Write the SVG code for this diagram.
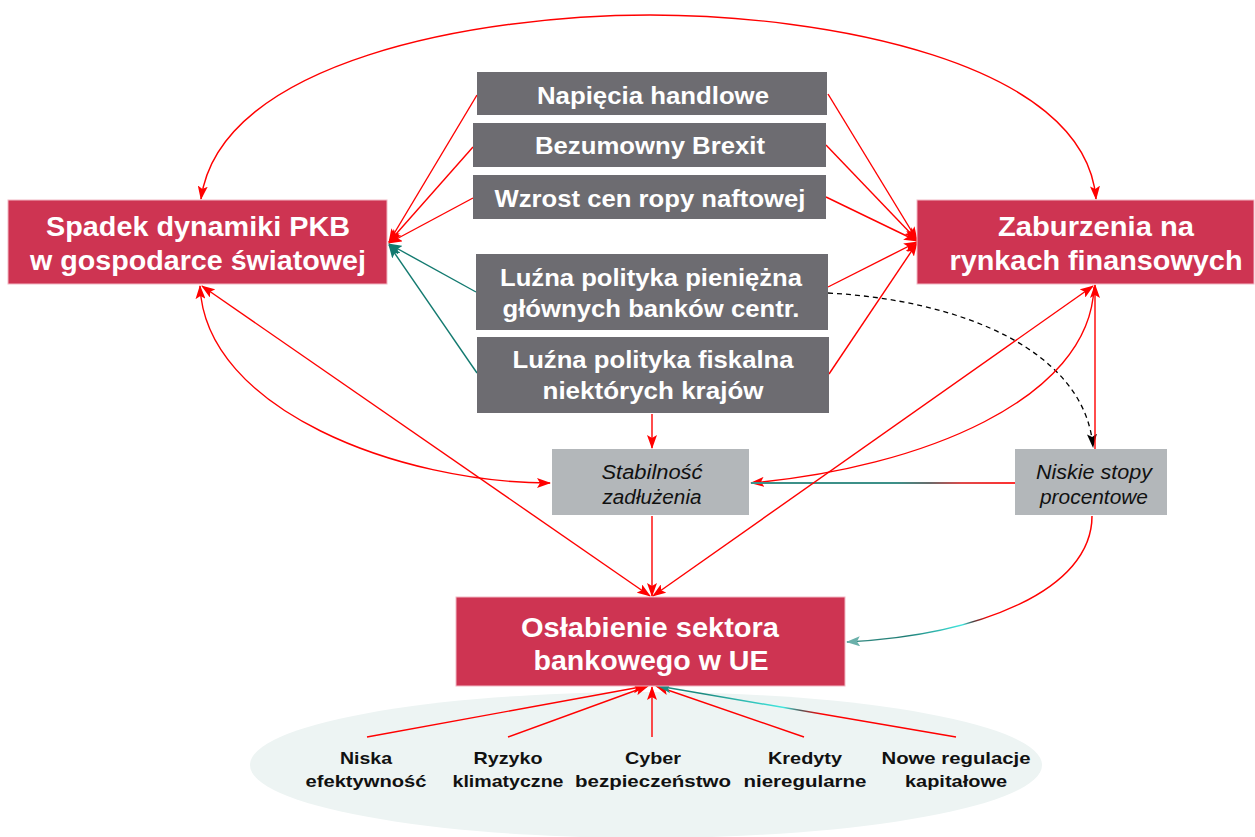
<svg xmlns="http://www.w3.org/2000/svg" width="1255" height="837" viewBox="0 0 1255 837">
<style>
.red{fill:#CE3452;stroke:#F2B8C4;stroke-width:1}
.dark{fill:#6D6C71}
.light{fill:#B3B7BA}
.tb{font-family:"Liberation Sans",Arial,sans-serif;font-weight:bold;fill:#fff;text-anchor:middle}
.ti{font-family:"Liberation Sans",Arial,sans-serif;font-style:italic;fill:#111;text-anchor:middle;font-size:20px}
.tk{font-family:"Liberation Sans",Arial,sans-serif;font-weight:bold;fill:#111;text-anchor:middle;font-size:17px}
.c{fill:none;stroke:#FF0000;stroke-width:1.4}
.ct{fill:none;stroke:#137A70;stroke-width:1.4}
</style>
<defs>
<marker id="ar" viewBox="0 0 14 10" refX="13" refY="5" markerWidth="14" markerHeight="10" markerUnits="userSpaceOnUse" orient="auto-start-reverse"><path d="M0,0 L14,5 L0,10 L3,5 z" fill="#FF0000"/></marker>
<marker id="at" viewBox="0 0 14 10" refX="13" refY="5" markerWidth="14" markerHeight="10" markerUnits="userSpaceOnUse" orient="auto-start-reverse"><path d="M0,0 L14,5 L0,10 L3,5 z" fill="#137A70"/></marker>
<marker id="ab" viewBox="0 0 14 10" refX="13" refY="5" markerWidth="14" markerHeight="10" markerUnits="userSpaceOnUse" orient="auto"><path d="M0,0 L14,5 L0,10 L3,5 z" fill="#000"/></marker>
<marker id="al" viewBox="0 0 14 10" refX="13" refY="5" markerWidth="14" markerHeight="10" markerUnits="userSpaceOnUse" orient="auto"><path d="M0,0 L14,5 L0,10 L3,5 z" fill="#6AB0AA"/></marker>
<marker id="at2" viewBox="0 0 14 10" refX="13" refY="5" markerWidth="14" markerHeight="10" markerUnits="userSpaceOnUse" orient="auto"><path d="M0,0 L14,5 L0,10 L3,5 z" fill="#1C8A80"/></marker>
<linearGradient id="gH" gradientUnits="userSpaceOnUse" x1="1015" y1="483" x2="751" y2="483">
<stop offset="0" stop-color="#FF3030"/><stop offset="0.2" stop-color="#E04848"/><stop offset="0.32" stop-color="#6A6A6A"/><stop offset="0.45" stop-color="#3C9088"/><stop offset="1" stop-color="#3C9088"/>
</linearGradient>
<linearGradient id="gN" gradientUnits="userSpaceOnUse" x1="1092" y1="516" x2="847" y2="642">
<stop offset="0" stop-color="#FF0000"/><stop offset="0.5" stop-color="#FF0000"/><stop offset="0.56" stop-color="#444"/><stop offset="0.6" stop-color="#40E8E0"/><stop offset="0.8" stop-color="#1E7C74"/><stop offset="1" stop-color="#3A8E86"/>
</linearGradient>
<linearGradient id="gB" gradientUnits="userSpaceOnUse" x1="956" y1="737" x2="658" y2="686">
<stop offset="0" stop-color="#FF0000"/><stop offset="0.45" stop-color="#FF0000"/><stop offset="0.52" stop-color="#555"/><stop offset="0.58" stop-color="#40E8E0"/><stop offset="0.85" stop-color="#1C8A80"/><stop offset="1" stop-color="#1C8A80"/>
</linearGradient>
</defs>
<rect width="1255" height="837" fill="#fff"/>
<ellipse id="bg-ellipse" cx="646" cy="765" rx="396" ry="73" fill="#EDF4F3"/>

<g id="connectors">
<path class="c" d="M201 199 C220 60 480 15 650 15 C820 15 1085 60 1096 199" marker-start="url(#ar)" marker-end="url(#ar)"/>
<path class="c" d="M477 95 L389 242" marker-end="url(#ar)"/>
<path class="c" d="M473 147 L389 242" marker-end="url(#ar)"/>
<path class="c" d="M473 198 L389 243" marker-end="url(#ar)"/>
<path class="ct" d="M476 292 L389 244" marker-end="url(#at)"/>
<path class="ct" d="M477 373 L389 245" marker-end="url(#at)"/>
<path class="c" d="M828 94 L917 240" marker-end="url(#ar)"/>
<path class="c" d="M826 145 L917 240" marker-end="url(#ar)"/>
<path class="c" d="M826 197 L917 241" marker-end="url(#ar)"/>
<path class="c" d="M828 287 L917 242" marker-end="url(#ar)"/>
<path class="c" d="M829 374 L917 243" marker-end="url(#ar)"/>
<path d="M828 293 C960 300 1085 350 1093 447" fill="none" stroke="#000" stroke-width="1.3" stroke-dasharray="5,4" marker-end="url(#ab)"/>
<path class="c" d="M1095 449 L1095 285" marker-end="url(#ar)"/>
<path class="c" d="M1094 287 C1090 400 920 468 751 483" marker-end="url(#ar)"/>
<path d="M1015 483 L751 483" fill="none" stroke="url(#gH)" stroke-width="2"/>
<path class="c" d="M200 286 C205 410 400 483 550 483" marker-start="url(#ar)" marker-end="url(#ar)"/>
<path class="c" d="M202 286 L650 596" marker-start="url(#ar)" marker-end="url(#ar)"/>
<path class="c" d="M653 596 L1093 286" marker-start="url(#ar)" marker-end="url(#ar)"/>
<path class="c" d="M652 414 L652 448" marker-end="url(#ar)"/>
<path class="c" d="M652 516 L652 596" marker-end="url(#ar)"/>
<path d="M1092 516 C1092 590 980 635 847 642" fill="none" stroke="url(#gN)" stroke-width="1.5" marker-end="url(#al)"/>
<path class="c" d="M367 737 L646 686" marker-end="url(#ar)"/>
<path class="c" d="M508 737 L648 686" marker-end="url(#ar)"/>
<path class="c" d="M652 737 L652 687" marker-end="url(#ar)"/>
<path class="c" d="M804 737 L656 686" marker-end="url(#ar)"/>
<path d="M956 737 L658 686" fill="none" stroke="url(#gB)" stroke-width="1.5" marker-end="url(#at2)"/>
</g>

<g id="spadek">
<rect class="red" x="8" y="200" width="379" height="84"/>
<text class="tb" font-size="28" x="198" y="236" textLength="304" lengthAdjust="spacingAndGlyphs">Spadek dynamiki PKB</text>
<text class="tb" font-size="28" x="198" y="270" textLength="336" lengthAdjust="spacingAndGlyphs">w gospodarce światowej</text>
</g>
<g id="zaburzenia">
<rect class="red" x="917" y="200" width="337" height="84"/>
<text class="tb" font-size="28" x="1096" y="236" textLength="196" lengthAdjust="spacingAndGlyphs">Zaburzenia na</text>
<text class="tb" font-size="28" x="1096" y="270" textLength="293" lengthAdjust="spacingAndGlyphs">rynkach finansowych</text>
</g>
<g id="napiecia">
<rect class="dark" x="477" y="72" width="350" height="43"/>
<text class="tb" font-size="24" x="653" y="104" textLength="232" lengthAdjust="spacingAndGlyphs">Napięcia handlowe</text>
</g>
<g id="brexit">
<rect class="dark" x="473" y="123" width="353" height="44"/>
<text class="tb" font-size="24" x="650" y="154" textLength="230" lengthAdjust="spacingAndGlyphs">Bezumowny Brexit</text>
</g>
<g id="ropa">
<rect class="dark" x="473" y="175" width="353" height="44"/>
<text class="tb" font-size="24" x="650" y="207" textLength="311" lengthAdjust="spacingAndGlyphs">Wzrost cen ropy naftowej</text>
</g>
<g id="pieniezna">
<rect class="dark" x="476" y="254" width="352" height="76"/>
<text class="tb" font-size="24" x="651" y="286" textLength="302" lengthAdjust="spacingAndGlyphs">Luźna polityka pieniężna</text>
<text class="tb" font-size="24" x="651" y="317" textLength="297" lengthAdjust="spacingAndGlyphs">głównych banków centr.</text>
</g>
<g id="fiskalna">
<rect class="dark" x="477" y="337" width="352" height="76"/>
<text class="tb" font-size="24" x="653" y="368" textLength="281" lengthAdjust="spacingAndGlyphs">Luźna polityka fiskalna</text>
<text class="tb" font-size="24" x="653" y="399" textLength="221" lengthAdjust="spacingAndGlyphs">niektórych krajów</text>
</g>
<g id="stabilnosc">
<rect class="light" x="552" y="449" width="197" height="66"/>
<text class="ti" x="652" y="479" textLength="101" lengthAdjust="spacingAndGlyphs">Stabilność</text>
<text class="ti" x="652" y="504" textLength="99" lengthAdjust="spacingAndGlyphs">zadłużenia</text>
</g>
<g id="niskie">
<rect class="light" x="1015" y="449" width="152" height="66"/>
<text class="ti" x="1094" y="479" textLength="116" lengthAdjust="spacingAndGlyphs">Niskie stopy</text>
<text class="ti" x="1094" y="504" textLength="108" lengthAdjust="spacingAndGlyphs">procentowe</text>
</g>
<g id="oslabienie">
<rect class="red" x="456" y="597" width="389" height="89"/>
<text class="tb" font-size="28" x="650" y="637" textLength="258" lengthAdjust="spacingAndGlyphs">Osłabienie  sektora</text>
<text class="tb" font-size="28" x="651" y="670" textLength="235" lengthAdjust="spacingAndGlyphs">bankowego w UE</text>
</g>
<g id="niska">
<text class="tk" x="366" y="764" textLength="52" lengthAdjust="spacingAndGlyphs">Niska</text>
<text class="tk" x="366" y="787" textLength="121" lengthAdjust="spacingAndGlyphs">efektywność</text>
</g>
<g id="ryzyko">
<text class="tk" x="508" y="764" textLength="69" lengthAdjust="spacingAndGlyphs">Ryzyko</text>
<text class="tk" x="508" y="787" textLength="111" lengthAdjust="spacingAndGlyphs">klimatyczne</text>
</g>
<g id="cyber">
<text class="tk" x="653" y="764" textLength="56" lengthAdjust="spacingAndGlyphs">Cyber</text>
<text class="tk" x="653" y="787" textLength="156" lengthAdjust="spacingAndGlyphs">bezpieczeństwo</text>
</g>
<g id="kredyty">
<text class="tk" x="805" y="764" textLength="74" lengthAdjust="spacingAndGlyphs">Kredyty</text>
<text class="tk" x="805" y="787" textLength="123" lengthAdjust="spacingAndGlyphs">nieregularne</text>
</g>
<g id="regulacje">
<text class="tk" x="956" y="764" textLength="149" lengthAdjust="spacingAndGlyphs">Nowe regulacje</text>
<text class="tk" x="956" y="787" textLength="102" lengthAdjust="spacingAndGlyphs">kapitałowe</text>
</g>
</svg>
